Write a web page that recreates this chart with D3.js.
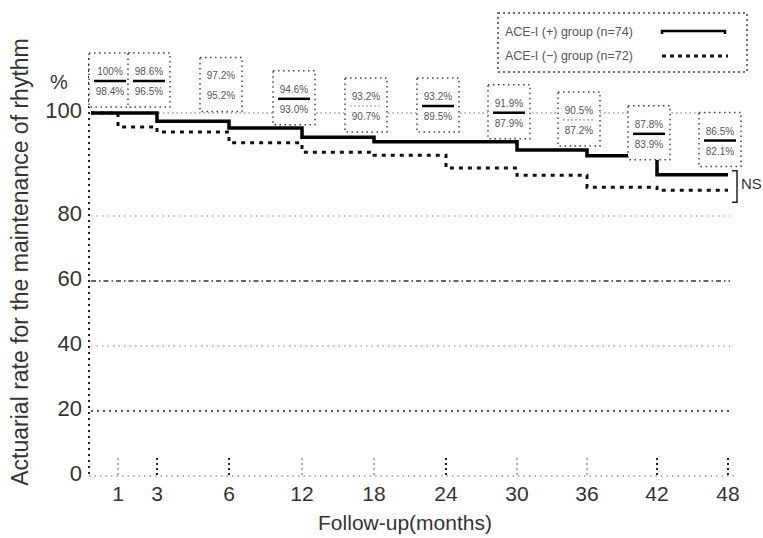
<!DOCTYPE html>
<html><head><meta charset="utf-8">
<script src="https://cdn.jsdelivr.net/npm/d3@7"></script>
<style>html,body{margin:0;padding:0;background:#fff}svg{display:block}</style>
</head><body>
<svg id="c" width="763" height="538"></svg>
<script>
// ---- data ----
const xTicks = [1, 3, 6, 12, 18, 24, 30, 36, 42, 48];
const yTicks = [0, 20, 40, 60, 80, 100];
const solidTimes  = [0, 3, 6, 12, 18, 30, 36, 42];
const solidValues = [100, 98.4, 97.1, 95.3, 94.4, 92.8, 91.7, 88.0];
const dashedTimes  = [0, 1, 3, 6, 12, 18, 24, 30, 36, 42];
const dashedValues = [100, 97.3, 96.3, 94.2, 92.4, 91.8, 89.3, 87.9, 85.6, 85.0];
const followEnd = 48;
const labelTimes  = [1, 3, 6, 12, 18, 24, 30, 36, 42, 48];
const labelPlus   = ["100%", "98.6%", "97.2%", "94.6%", "93.2%", "93.2%", "91.9%", "90.5%", "87.8%", "86.5%"];
const labelMinus  = ["98.4%", "96.5%", "95.2%", "93.0%", "90.7%", "89.5%", "87.9%", "87.2%", "83.9%", "82.1%"];
const legendNames = ["ACE-I (+) group (n=74)", "ACE-I (\u2212) group (n=72)"];
const xTitle = "Follow-up(months)";
const yTitle = "Actuarial rate for the maintenance of rhythm";

// ---- scales ----
const svg = d3.select("#c");
const x = d3.scaleLinear()
  .domain([0, 1, 3, 6, 12, 18, 24, 30, 36, 42, 48])
  .range([91, 118, 157, 229, 302, 374, 446, 517, 587, 657, 728]);
const y = d3.scaleLinear().domain([0, 80, 100]).range([476, 216, 113]);
const font = "Liberation Sans, Arial, sans-serif";

// gridlines
const gridStyle = {100: ["#999", "1.5,3"], 80: ["#aaa", "1.5,4"], 60: ["#333", "5,3,1.5,3"], 40: ["#aaa", "1.5,4"], 20: ["#222", "2,4"]};
svg.append("g").selectAll("line").data(yTicks.filter(d => d > 0)).join("line")
  .attr("x1", x(0)).attr("x2", x(48) + 2)
  .attr("y1", d => y(d)).attr("y2", d => y(d))
  .attr("stroke", d => gridStyle[d][0]).attr("stroke-width", 1.5)
  .attr("stroke-dasharray", d => gridStyle[d][1]);

// axes lines
svg.append("line").attr("x1", 89).attr("x2", 89).attr("y1", 58).attr("y2", y(0))
  .attr("stroke", "#222").attr("stroke-width", 2).attr("stroke-dasharray", "2,4");
svg.append("line").attr("x1", 89).attr("x2", x(48) + 8).attr("y1", y(0)).attr("y2", y(0))
  .attr("stroke", "#999").attr("stroke-width", 1.5).attr("stroke-dasharray", "1.5,4");

// y tick labels
svg.append("g").selectAll("text").data(yTicks).join("text")
  .attr("x", 82).attr("y", d => y(d) - 3).attr("dy", "0.35em")
  .attr("text-anchor", "end").attr("font-family", font).attr("font-size", 22)
  .attr("fill", "#333").text(d => d);
svg.append("text").attr("x", 50).attr("y", 82).attr("dy", "0.35em")
  .attr("font-family", font).attr("font-size", 20).attr("fill", "#333").text("%");

// x ticks
const darkTicks = new Set([3, 6, 24, 42, 48]);
svg.append("g").selectAll("line").data(xTicks).join("line")
  .attr("x1", d => x(d)).attr("x2", d => x(d))
  .attr("y1", y(0) - 18).attr("y2", y(0))
  .attr("stroke", d => darkTicks.has(d) ? "#222" : "#aaa").attr("stroke-width", 2)
  .attr("stroke-dasharray", "2,3");
svg.append("g").selectAll("text").data(xTicks).join("text")
  .attr("x", d => x(d)).attr("y", 501)
  .attr("text-anchor", "middle").attr("font-family", font).attr("font-size", 21)
  .attr("fill", "#333").text(d => d);

// axis titles
svg.append("text").attr("x", 405).attr("y", 530).attr("text-anchor", "middle")
  .attr("font-family", font).attr("font-size", 21).attr("fill", "#333").text(xTitle);
svg.append("text").attr("transform", "translate(28,262) rotate(-90)").attr("text-anchor", "middle")
  .attr("font-family", font).attr("font-size", 23).attr("fill", "#333").text(yTitle);

// curves
const solidPts = solidTimes.map((t, i) => [t, solidValues[i]]);
solidPts.push([followEnd, solidValues[solidValues.length - 1]]);
const dashedPts = dashedTimes.map((t, i) => [t, dashedValues[i]]);
dashedPts.push([followEnd, dashedValues[dashedValues.length - 1]]);
const line = d3.line().x(d => x(d[0])).y(d => y(d[1])).curve(d3.curveStepAfter);
svg.append("path").attr("d", line(dashedPts)).attr("fill", "none")
  .attr("stroke", "#111").attr("stroke-width", 3).attr("stroke-dasharray", "4,5");
svg.append("path").attr("d", line(solidPts)).attr("fill", "none")
  .attr("stroke", "#000").attr("stroke-width", 3.5);

// NS bracket
const bx = x(48) + 9;
svg.append("path")
  .attr("d", `M${bx - 5},${y(88.0) - 4}H${bx}V${y(85.0) + 12}H${bx - 5}`)
  .attr("fill", "none").attr("stroke", "#222").attr("stroke-width", 1.5);
svg.append("text").attr("x", bx + 4).attr("y", y(86.5) + 6)
  .attr("font-family", font).attr("font-size", 15).attr("fill", "#333").text("NS");

// label boxes
const lightSep = new Set([18, 36]);
const noSep = new Set([6]);
const boxW = 42, boxH = 54;
const boxes = svg.append("g").selectAll("g").data(labelTimes).join("g")
  .attr("transform", (t, i) => {
    const top = Math.max(53, y(parseFloat(labelPlus[i])) - 70);
    return `translate(${x(t) - 8 - boxW / 2},${top})`;
  });
boxes.append("rect").attr("width", boxW).attr("height", boxH).attr("fill", "#fff")
  .attr("stroke", "#444").attr("stroke-width", 1.5).attr("stroke-dasharray", "1.5,3.5");
boxes.append("text").attr("x", boxW / 2).attr("y", 22).attr("text-anchor", "middle")
  .attr("font-family", font).attr("font-size", 10).attr("fill", "#555")
  .text((t, i) => labelPlus[i]);
boxes.append("text").attr("x", boxW / 2).attr("y", 42).attr("text-anchor", "middle")
  .attr("font-family", font).attr("font-size", 10).attr("fill", "#555")
  .text((t, i) => labelMinus[i]);
boxes.filter(t => !noSep.has(t)).append("line")
  .attr("x1", 5).attr("x2", boxW - 5).attr("y1", 28).attr("y2", 28)
  .attr("stroke", t => lightSep.has(t) ? "#999" : "#000")
  .attr("stroke-width", t => lightSep.has(t) ? 1.2 : 2.5)
  .attr("stroke-dasharray", t => lightSep.has(t) ? "2,2" : null);

// legend
const lg = svg.append("g").attr("transform", "translate(498,13)");
lg.append("rect").attr("width", 249).attr("height", 59).attr("fill", "#fff")
  .attr("stroke", "#444").attr("stroke-width", 1.5).attr("stroke-dasharray", "2,3");
lg.selectAll("text").data(legendNames).join("text")
  .attr("x", 7).attr("y", (d, i) => 19 + i * 24).attr("dy", "0.35em")
  .attr("font-family", font).attr("font-size", 12.5).attr("fill", "#555")
  .text(d => d);
lg.append("path").attr("d", "M164,21V18H227V21").attr("fill", "none")
  .attr("stroke", "#000").attr("stroke-width", 2.5);
lg.append("line").attr("x1", 164).attr("x2", 230).attr("y1", 43).attr("y2", 43)
  .attr("stroke", "#111").attr("stroke-width", 3).attr("stroke-dasharray", "4,4");
</script>
</body></html>
